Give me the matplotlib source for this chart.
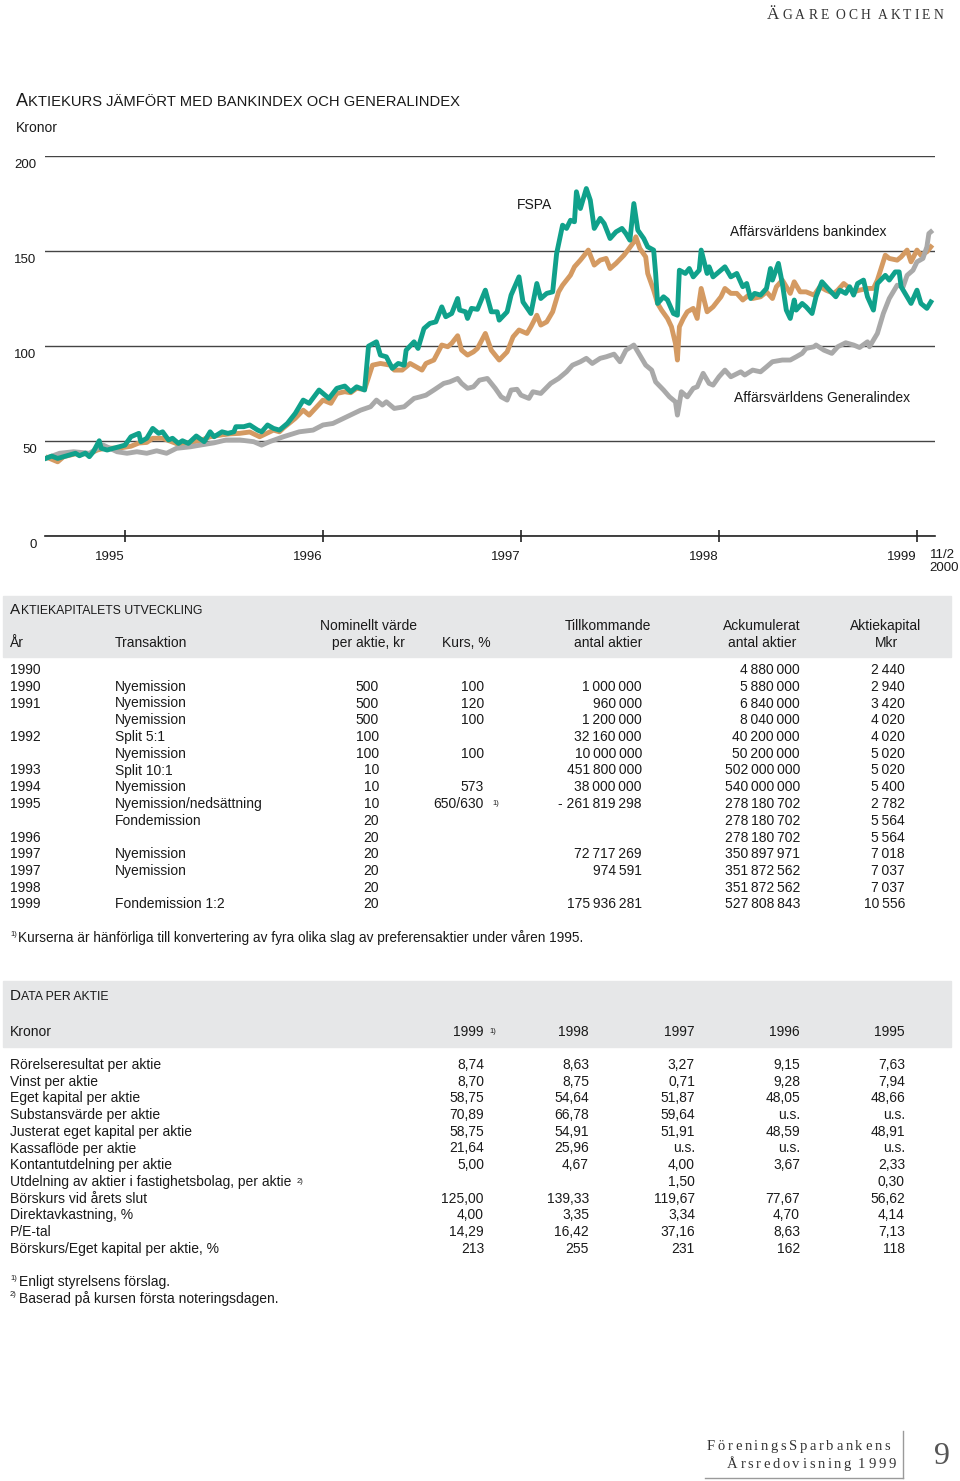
import matplotlib
matplotlib.use("Agg")
import matplotlib.pyplot as plt
from matplotlib.patches import Rectangle

plt.rcParams['font.family'] = ['Liberation Sans', 'DejaVu Sans']
SERIF = ['Liberation Serif', 'DejaVu Serif']
INK = '#1a1a1a'

# ---- chart data (decimal year, kronor / index level) ----
fspa_t = [1995.60, 1995.63, 1995.66, 1995.69, 1995.72, 1995.75, 1995.77, 1995.80, 1995.82, 1995.84,
          1995.87, 1995.88, 1995.91, 1995.94, 1995.97, 1996.00, 1996.03, 1996.07, 1996.08, 1996.11,
          1996.14, 1996.17, 1996.19, 1996.22, 1996.24, 1996.27, 1996.29, 1996.32, 1996.36, 1996.40,
          1996.43, 1996.45, 1996.49, 1996.52, 1996.55, 1996.56, 1996.60, 1996.63, 1996.67, 1996.69,
          1996.72, 1996.75, 1996.78, 1996.82, 1996.86, 1996.90, 1996.93, 1996.98, 1997.03, 1997.07,
          1997.11, 1997.14, 1997.17, 1997.21, 1997.23, 1997.27, 1997.29, 1997.32, 1997.35, 1997.38,
          1997.41, 1997.42, 1997.46, 1997.48, 1997.51, 1997.54, 1997.57, 1997.60, 1997.62, 1997.65,
          1997.68, 1997.69, 1997.72, 1997.73, 1997.75, 1997.78, 1997.82, 1997.85, 1997.88, 1997.89,
          1997.93, 1997.95, 1997.99, 1998.01, 1998.05, 1998.08, 1998.10, 1998.13, 1998.16, 1998.18,
          1998.21, 1998.23, 1998.25, 1998.27, 1998.28, 1998.30, 1998.32, 1998.33, 1998.35, 1998.37,
          1998.40, 1998.42, 1998.45, 1998.48, 1998.51, 1998.53, 1998.55, 1998.57, 1998.59, 1998.62,
          1998.64, 1998.67, 1998.68, 1998.69, 1998.72, 1998.74, 1998.77, 1998.79, 1998.80, 1998.83,
          1998.85, 1998.87, 1998.90, 1998.91, 1998.94, 1998.95, 1998.97, 1999.01, 1999.03, 1999.06,
          1999.09, 1999.12, 1999.14, 1999.16, 1999.18, 1999.21, 1999.24, 1999.26, 1999.27, 1999.30,
          1999.32, 1999.34, 1999.36, 1999.38, 1999.39, 1999.42, 1999.44, 1999.47, 1999.49, 1999.52,
          1999.55, 1999.59, 1999.61, 1999.64, 1999.66, 1999.68, 1999.70, 1999.73, 1999.75, 1999.78,
          1999.80, 1999.84, 1999.86, 1999.89, 1999.91, 1999.92, 1999.95, 1999.97, 2000.00, 2000.02,
          2000.05, 2000.07]
fspa_v = [40.6, 41.8, 40.6, 41.5, 42.4, 43.3, 42.0, 43.4, 41.5, 44.1,
          49.9, 45.9, 45.0, 45.9, 46.7, 47.6, 52.0, 53.8, 49.4, 51.2,
          56.4, 53.8, 54.6, 50.3, 51.2, 48.5, 49.9, 48.5, 52.4, 49.4,
          54.6, 52.0, 54.6, 53.8, 54.6, 57.3, 57.3, 58.2, 55.5, 54.6,
          58.2, 56.4, 55.5, 59.0, 64.3, 71.3, 69.6, 76.6, 72.2, 77.5,
          78.7, 75.7, 78.3, 76.6, 99.7, 102.0, 95.0, 94.1, 88.0, 90.6,
          89.7, 97.6, 102.0, 98.5, 109.0, 111.7, 112.5, 120.4, 115.2, 116.9,
          124.8, 118.7, 117.8, 114.3, 119.6, 119.1, 129.2, 117.8, 117.8, 113.4,
          117.8, 126.6, 136.2, 123.0, 116.9, 132.7, 124.8, 127.5, 128.3, 148.5,
          163.4, 161.7, 166.0, 165.2, 181.0, 172.2, 179.2, 182.7, 176.6, 161.7,
          167.0, 164.3, 156.4, 159.9, 161.7, 159.0, 155.5, 174.8, 160.8, 156.4,
          152.0, 150.3, 138.0, 122.2, 125.7, 124.0, 116.9, 116.0, 139.7, 138.0,
          140.6, 136.2, 139.7, 150.3, 138.0, 141.5, 136.2, 139.7, 141.5, 136.2,
          138.0, 131.0, 132.7, 124.8, 127.5, 126.6, 130.1, 140.6, 134.5, 143.3,
          132.7, 118.7, 114.3, 124.0, 118.7, 122.2, 120.4, 116.9, 125.7, 133.6,
          130.1, 125.7, 129.2, 127.5, 131.0, 126.6, 132.7, 134.5, 125.7, 118.7,
          132.7, 137.0, 134.5, 138.8, 138.8, 131.0, 125.7, 122.2, 129.2, 122.2,
          119.6, 123.0]

bank_t = [1995.61, 1995.66, 1995.69, 1995.75, 1995.82, 1995.86, 1995.90, 1995.97, 1996.03, 1996.07,
          1996.11, 1996.14, 1996.19, 1996.22, 1996.27, 1996.33, 1996.38, 1996.43, 1996.49, 1996.53,
          1996.58, 1996.63, 1996.68, 1996.75, 1996.78, 1996.80, 1996.86, 1996.90, 1996.93, 1997.00,
          1997.04, 1997.07, 1997.11, 1997.14, 1997.17, 1997.21, 1997.25, 1997.29, 1997.34, 1997.36,
          1997.40, 1997.44, 1997.50, 1997.52, 1997.56, 1997.60, 1997.63, 1997.65, 1997.68, 1997.70,
          1997.73, 1997.76, 1997.78, 1997.82, 1997.85, 1997.89, 1997.93, 1997.96, 1997.99, 1998.03,
          1998.05, 1998.08, 1998.10, 1998.13, 1998.16, 1998.19, 1998.21, 1998.25, 1998.27, 1998.30,
          1998.32, 1998.34, 1998.37, 1998.40, 1998.43, 1998.45, 1998.48, 1998.52, 1998.54, 1998.57,
          1998.58, 1998.60, 1998.63, 1998.64, 1998.67, 1998.69, 1998.71, 1998.74, 1998.76, 1998.78,
          1998.79, 1998.80, 1998.82, 1998.84, 1998.87, 1998.89, 1998.90, 1998.91, 1998.94, 1998.97,
          1999.01, 1999.03, 1999.06, 1999.09, 1999.12, 1999.15, 1999.17, 1999.21, 1999.24, 1999.27,
          1999.29, 1999.32, 1999.36, 1999.38, 1999.41, 1999.44, 1999.48, 1999.51, 1999.54, 1999.58,
          1999.60, 1999.63, 1999.65, 1999.68, 1999.71, 1999.75, 1999.78, 1999.80, 1999.84, 1999.86,
          1999.90, 1999.92, 1999.95, 1999.97, 2000.00, 2000.02, 2000.05, 2000.07]
bank_v = [41.0, 38.8, 41.5, 43.0, 43.0, 45.0, 46.0, 46.0, 47.0, 48.7,
          49.0, 51.2, 51.2, 50.0, 48.0, 49.0, 50.0, 52.0, 53.0, 53.5,
          53.8, 54.5, 52.0, 55.5, 54.6, 56.6, 61.7, 66.0, 63.4, 71.3,
          69.6, 74.8, 75.7, 75.2, 77.5, 76.9, 89.7, 90.6, 89.7, 87.1,
          87.1, 90.6, 87.1, 90.6, 92.4, 100.3, 99.4, 101.2, 105.2, 97.6,
          95.0, 96.7, 98.5, 106.4, 97.6, 92.4, 96.7, 104.6, 108.2, 106.4,
          109.9, 116.0, 110.8, 112.5, 117.8, 128.3, 131.8, 137.1, 141.5, 145.0,
          147.6, 150.3, 142.4, 145.0, 145.9, 140.6, 143.3, 147.6, 150.3, 154.6,
          157.3, 151.2, 146.7, 138.0, 129.2, 122.2, 118.7, 114.3, 109.9, 101.2,
          92.4, 109.9, 114.3, 117.8, 119.6, 114.3, 123.0, 130.1, 117.8, 120.4,
          125.7, 130.1, 127.5, 127.5, 124.0, 126.6, 124.8, 125.7, 128.3, 124.8,
          131.0, 134.5, 127.5, 133.6, 128.3, 128.3, 126.6, 131.0, 129.2, 127.5,
          129.2, 132.7, 131.0, 128.3, 129.2, 130.1, 130.1, 134.5, 147.6, 145.9,
          145.0, 146.7, 150.3, 144.1, 150.3, 147.6, 149.4, 152.0]

gen_t = [1995.61, 1995.67, 1995.74, 1995.82, 1995.89, 1995.96, 1996.01, 1996.06, 1996.11, 1996.16,
         1996.21, 1996.26, 1996.33, 1996.38, 1996.45, 1996.51, 1996.58, 1996.65, 1996.69, 1996.73,
         1996.80, 1996.88, 1996.95, 1997.00, 1997.05, 1997.12, 1997.19, 1997.24, 1997.27, 1997.30,
         1997.32, 1997.36, 1997.41, 1997.46, 1997.49, 1997.52, 1997.56, 1997.61, 1997.64, 1997.68,
         1997.70, 1997.73, 1997.76, 1997.79, 1997.83, 1997.87, 1997.90, 1997.93, 1997.95, 1997.98,
         1998.00, 1998.04, 1998.06, 1998.10, 1998.15, 1998.19, 1998.23, 1998.26, 1998.30, 1998.33,
         1998.36, 1998.40, 1998.43, 1998.47, 1998.50, 1998.53, 1998.57, 1998.60, 1998.63, 1998.66,
         1998.68, 1998.72, 1998.75, 1998.78, 1998.79, 1998.81, 1998.84, 1998.87, 1998.89, 1998.92,
         1998.95, 1998.97, 1999.00, 1999.03, 1999.06, 1999.11, 1999.13, 1999.17, 1999.21, 1999.24,
         1999.27, 1999.32, 1999.36, 1999.39, 1999.42, 1999.44, 1999.48, 1999.49, 1999.53, 1999.57,
         1999.60, 1999.64, 1999.68, 1999.71, 1999.75, 1999.76, 1999.80, 1999.83, 1999.86, 1999.90,
         1999.93, 1999.95, 1999.98, 2000.00, 2000.03, 2000.05, 2000.06, 2000.07]
gen_v = [41.0, 43.3, 44.1, 43.3, 47.6, 44.1, 43.3, 44.1, 43.3, 44.6,
         43.3, 45.9, 46.7, 47.6, 48.8, 50.3, 50.3, 49.4, 47.6, 49.4,
         52.0, 54.6, 55.5, 58.2, 59.0, 62.5, 66.0, 67.8, 71.3, 68.7,
         70.4, 66.9, 67.8, 72.2, 73.0, 73.9, 76.6, 80.1, 80.9, 82.7,
         80.1, 77.5, 78.3, 81.8, 82.7, 77.5, 73.0, 71.3, 76.6, 77.0,
         73.9, 72.2, 75.7, 74.8, 80.1, 82.7, 86.2, 89.7, 91.5, 93.3,
         90.6, 93.3, 94.1, 95.5, 91.5, 97.6, 100.3, 95.0, 89.7, 87.1,
         80.9, 76.6, 73.0, 70.4, 63.4, 75.7, 73.0, 77.5, 78.3, 85.4,
         80.1, 79.2, 83.6, 87.1, 83.6, 86.2, 84.5, 87.1, 86.2, 88.8,
         91.5, 92.4, 92.4, 94.1, 95.9, 98.5, 99.4, 100.3, 97.6, 95.9,
         99.4, 101.5, 100.3, 99.0, 102.0, 99.4, 106.4, 116.9, 124.8, 131.8,
         131.0, 137.0, 139.7, 144.1, 145.9, 152.0, 159.0, 159.9]

year_ends = [1996, 1997, 1998, 1999, 2000]
year_labels = ['1995', '1996', '1997', '1998', '1999']
y_levels = [0, 50, 100, 150, 200]

# ---- table data ----
cap_year = ['1990', '1990', '1991', '', '1992', '', '1993', '1994', '1995', '', '1996',
            '1997', '1997', '1998', '1999']
cap_trans = ['', 'Nyemission', 'Nyemission', 'Nyemission', 'Split 5:1', 'Nyemission', 'Split 10:1',
             'Nyemission', 'Nyemission/nedsättning', 'Fondemission', '', 'Nyemission', 'Nyemission',
             '', 'Fondemission 1:2']
cap_nominal = [None, 500, 500, 500, 100, 100, 10, 10, 10, 20, 20, 20, 20, 20, 20]
cap_kurs = ['', '100', '120', '100', '', '100', '', '573', '650/630', '', '', '', '', '', '']
cap_new = [None, 1000000, 960000, 1200000, 32160000, 10000000, 451800000, 38000000, -261819298,
           None, None, 72717269, 974591, None, 175936281]
cap_acc = [4880000, 5880000, 6840000, 8040000, 40200000, 50200000, 502000000, 540000000,
           278180702, 278180702, 278180702, 350897971, 351872562, 351872562, 527808843]
cap_mkr = [2440, 2940, 3420, 4020, 4020, 5020, 5020, 5400, 2782, 5564, 5564, 7018, 7037, 7037, 10556]

dpa_years = ['1999', '1998', '1997', '1996', '1995']
dpa_labels = ['Rörelseresultat per aktie', 'Vinst per aktie', 'Eget kapital per aktie',
              'Substansvärde per aktie', 'Justerat eget kapital per aktie', 'Kassaflöde per aktie',
              'Kontantutdelning per aktie', 'Utdelning av aktier i fastighetsbolag, per aktie',
              'Börskurs vid årets slut', 'Direktavkastning, %', 'P/E-tal',
              'Börskurs/Eget kapital per aktie, %']
dpa_1999 = ['8,74', '8,70', '58,75', '70,89', '58,75', '21,64', '5,00', '', '125,00', '4,00', '14,29', '213']
dpa_1998 = ['8,63', '8,75', '54,64', '66,78', '54,91', '25,96', '4,67', '', '139,33', '3,35', '16,42', '255']
dpa_1997 = ['3,27', '0,71', '51,87', '59,64', '51,91', 'u.s.', '4,00', '1,50', '119,67', '3,34', '37,16', '231']
dpa_1996 = ['9,15', '9,28', '48,05', 'u.s.', '48,59', 'u.s.', '3,67', '', '77,67', '4,70', '8,63', '162']
dpa_1995 = ['7,63', '7,94', '48,66', 'u.s.', '48,91', 'u.s.', '2,33', '0,30', '56,62', '4,14', '7,13', '118']


def fmt(n):
    if n is None:
        return ''
    s = f"{abs(n):,}".replace(',', '\u2009')
    return ('- ' + s) if n < 0 else s


fig = plt.figure(figsize=(9.6, 14.81), dpi=100)
bg = fig.add_axes([0, 0, 1, 1])
bg.set_xlim(0, 960)
bg.set_ylim(1481, 0)
bg.axis('off')


def smallcaps(x, y, first, rest, big, small, **kw):
    # big first letter, rest in smaller caps, both on the same baseline y
    t = bg.text(x, y, first, fontsize=big, ha='left', va='baseline', color=INK, **kw)
    bg.annotate(rest, xy=(1, y), xycoords=(t, 'data'), xytext=(0.3, 0), textcoords='offset points',
                fontsize=small, ha='left', va='baseline', color=INK, **kw)


def tracked(x, y, text, size, track, big=None, color='#333333'):
    # letter-spaced serif text, char by char on one baseline
    prev, gap = None, 0.0
    for i, ch in enumerate(text):
        if ch == ' ':
            gap += size * 0.3
            continue
        fs = big if (i == 0 and big) else size
        if prev is None:
            prev = bg.text(x, y, ch, fontsize=fs, family=SERIF, color=color, ha='left', va='baseline')
        else:
            prev = bg.annotate(ch, xy=(1, y), xycoords=(prev, 'data'), xytext=(track + gap, 0),
                               textcoords='offset points', fontsize=fs, family=SERIF,
                               color=color, ha='left', va='baseline')
        gap = 0.0


def sup(t, s, gap=2.5):
    bg.annotate(s, xy=(1, 1), xycoords=t, xytext=(gap, -2.5), textcoords='offset points',
                fontsize=5.5, ha='left', va='top', color=INK)


# ---- page header ----
tracked(767, 19, 'ÄGARE OCH AKTIEN', 9.8, 2.2, big=12.5)

# ---- chart ----
smallcaps(16, 106, 'A', 'KTIEKURS JÄMFÖRT MED BANKINDEX OCH GENERALINDEX', 13, 10.6)
bg.text(16, 128, 'Kronor', fontsize=10, color=INK, va='center')

ax = fig.add_axes([45 / 960, 1 - 535.5 / 1481, 890 / 960, 379.8 / 1481])
ax.set_xlim(1995.596, 2000.091)
ax.set_ylim(0, 200)
for s in ['top', 'left', 'right']:
    ax.spines[s].set_visible(False)
ax.spines['bottom'].set_color('#222222')
ax.spines['bottom'].set_linewidth(1.2)
ax.set_yticks(y_levels)
ax.set_yticklabels([])
ax.tick_params(axis='y', length=0)
ax.grid(axis='y', color='#444444', lw=1.0)
ax.set_axisbelow(True)
ax.set_xticks(year_ends)
ax.set_xticklabels([])
ax.tick_params(axis='x', direction='inout', length=8.6, width=1.2, color='#222222')

lw = 3.5
ax.plot(bank_t, bank_v, color='#d49a62', lw=lw, solid_joinstyle='round', zorder=3)
ax.plot(gen_t, gen_v, color='#a9a9a9', lw=lw, solid_joinstyle='round', zorder=3.5)
ax.plot(fspa_t, fspa_v, color='#10a18b', lw=lw, solid_joinstyle='round', zorder=4)

for v in y_levels:
    ax.annotate(str(v), xy=(ax.get_xlim()[0], v), xytext=(-6, -6.5), textcoords='offset points',
                ha='right', va='center', fontsize=9.5, color=INK, annotation_clip=False)
for yr, lab in zip(year_ends, year_labels):
    ax.annotate(lab, xy=(yr, 0), xytext=(-11, -15.5), textcoords='offset points',
                ha='center', va='center', fontsize=9.5, color=INK, annotation_clip=False)
ax.annotate('11/2\n2000', xy=(fspa_t[-1], 0), xytext=(-1, -10), textcoords='offset points',
            ha='left', va='top', fontsize=9.5, color=INK, linespacing=1.1,
            annotation_clip=False)

ax.text(1998.07, 174, 'FSPA', fontsize=10, color=INK, ha='center', va='center')
ax.text(1999.45, 159.7, 'Affärsvärldens bankindex', fontsize=10, color=INK, ha='center', va='center')
ax.text(1999.52, 72.4, 'Affärsvärldens Generalindex', fontsize=10, color=INK, ha='center', va='center')

# ---- Aktiekapitalets utveckling ----
bg.add_patch(Rectangle((3, 596), 948, 61, color='#e6e7e8', zorder=0))
smallcaps(10, 614, 'A', 'KTIEKAPITALETS UTVECKLING', 11, 8.8)
fs = 10
for cx, txt in [(368, 'Nominellt värde'), (608, 'Tillkommande'), (762, 'Ackumulerat'),
                (886, 'Aktiekapital')]:
    bg.text(cx, 626, txt, fontsize=fs, ha='center', va='center', color=INK)
bg.text(10, 643, 'År', fontsize=fs, ha='left', va='center', color=INK)
bg.text(115, 643, 'Transaktion', fontsize=fs, ha='left', va='center', color=INK)
for cx, txt in [(368, 'per aktie, kr'), (466, 'Kurs, %'), (608, 'antal aktier'),
                (762, 'antal aktier'), (886, 'Mkr')]:
    bg.text(cx, 643, txt, fontsize=fs, ha='center', va='center', color=INK)

for i in range(len(cap_year)):
    y = 670 + i * 16.75
    bg.text(10, y, cap_year[i], fontsize=fs, va='center', color=INK)
    bg.text(115, y, cap_trans[i], fontsize=fs, va='center', color=INK)
    bg.text(379, y, fmt(cap_nominal[i]), fontsize=fs, va='center', ha='right', color=INK)
    tk = bg.text(484, y, cap_kurs[i], fontsize=fs, va='center', ha='right', color=INK)
    if cap_kurs[i] == '650/630':
        sup(tk, '1)', gap=6)
    bg.text(642, y, fmt(cap_new[i]), fontsize=fs, va='center', ha='right', color=INK)
    bg.text(800, y, fmt(cap_acc[i]), fontsize=fs, va='center', ha='right', color=INK)
    bg.text(905, y, fmt(cap_mkr[i]), fontsize=fs, va='center', ha='right', color=INK)

bg.text(10, 934, '1)', fontsize=5.5, va='center', color=INK)
bg.text(18, 938, 'Kurserna är hänförliga till konvertering av fyra olika slag av preferensaktier '
        'under våren 1995.', fontsize=9.85, va='center', color=INK)

# ---- Data per aktie ----
bg.add_patch(Rectangle((3, 981), 948, 66, color='#e6e7e8', zorder=0))
smallcaps(10, 1000, 'D', 'ATA PER AKTIE', 11, 8.8)
bg.text(10, 1032, 'Kronor', fontsize=fs, va='center', color=INK)
col_x = [484, 589, 695, 800, 905]
for cx, yr in zip(col_x, dpa_years):
    th = bg.text(cx, 1032, yr, fontsize=fs, va='center', ha='right', color=INK)
    if yr == '1999':
        sup(th, '1)', gap=4)

cols = [dpa_1999, dpa_1998, dpa_1997, dpa_1996, dpa_1995]
for i, lab in enumerate(dpa_labels):
    y = 1065 + i * 16.7
    tl = bg.text(10, y, lab, fontsize=fs, va='center', color=INK)
    if lab.startswith('Utdelning av aktier'):
        sup(tl, '2)', gap=4)
    for cx, col in zip(col_x, cols):
        bg.text(cx, y, col[i], fontsize=fs, va='center', ha='right', color=INK)

bg.text(10, 1278, '1)', fontsize=5.5, va='center', color=INK)
bg.text(19, 1282, 'Enligt styrelsens förslag.', fontsize=fs, va='center', color=INK)
bg.text(10, 1295, '2)', fontsize=5.5, va='center', color=INK)
bg.text(19, 1299, 'Baserad på kursen första noteringsdagen.', fontsize=fs, va='center', color=INK)

# ---- footer ----
tracked(707, 1450, 'FöreningsSparbankens', 10.5, 1.9)
tracked(727, 1468, 'Årsredovisning 1999', 10.5, 1.9)
bg.plot([903, 903], [1431, 1478], color='#9a9a9a', lw=1.0)
bg.plot([705, 903], [1478, 1478], color='#9a9a9a', lw=1.0)
bg.text(942, 1457, '9', fontsize=23, family=SERIF, color='#555555', ha='center', va='center')

fig.savefig('out.png', dpi=100)
